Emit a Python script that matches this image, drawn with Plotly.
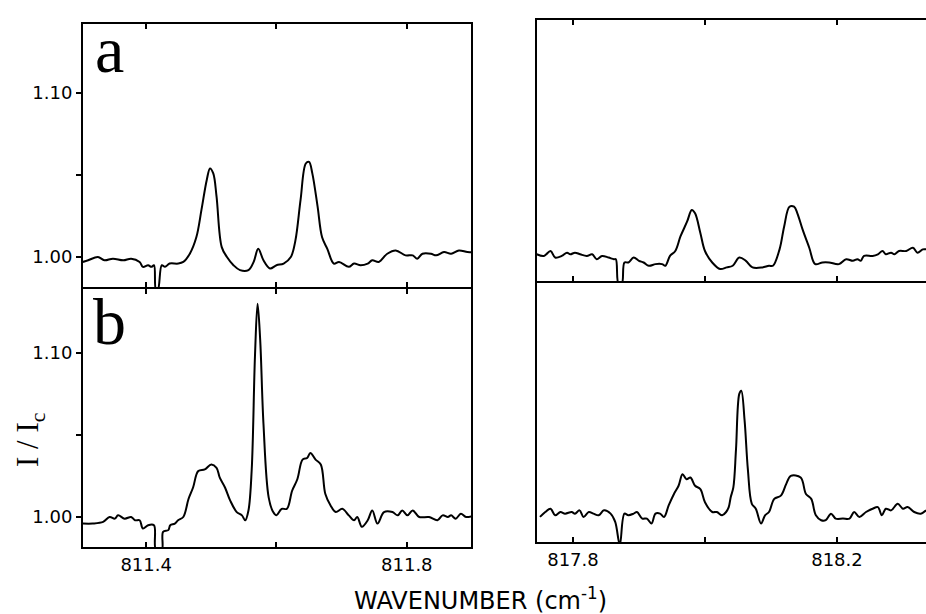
import plotly.graph_objects as go

# ---------------- data ----------------
# Panel a, 811 cm-1 window
a_left_wn = [811.303, 811.311, 811.326, 811.336, 811.349, 811.365, 811.377, 811.390, 811.395, 811.403,
             811.408, 811.412, 811.415, 811.418, 811.424, 811.429, 811.436, 811.449, 811.457, 811.467,
             811.477, 811.485, 811.493, 811.498, 811.503, 811.508, 811.516, 811.524, 811.534, 811.544,
             811.557, 811.565, 811.572, 811.580, 811.590, 811.600, 811.611, 811.622, 811.629, 811.637,
             811.645, 811.650, 811.655, 811.663, 811.670, 811.678, 811.688, 811.696, 811.711, 811.719,
             811.729, 811.740, 811.747, 811.757, 811.770, 811.783, 811.798, 811.809, 811.816, 811.824,
             811.837, 811.845, 811.857, 811.868, 811.880, 811.893, 811.901]
a_left_ratio = [0.997, 0.998, 1.000, 0.998, 0.999, 0.998, 0.999, 0.997, 0.994, 0.995,
                0.994, 0.995, 0.980, 0.980, 0.995, 0.994, 0.996, 0.996, 0.997, 1.002,
                1.012, 1.029, 1.047, 1.054, 1.051, 1.037, 1.006, 1.000, 0.995, 0.992,
                0.992, 0.997, 1.005, 0.998, 0.993, 0.995, 0.996, 1.000, 1.010, 1.035,
                1.057, 1.058, 1.051, 1.031, 1.012, 1.005, 0.996, 0.997, 0.994, 0.996,
                0.995, 0.996, 0.998, 0.997, 1.002, 1.004, 1.001, 1.001, 0.999, 1.002,
                1.002, 1.001, 1.003, 1.002, 1.004, 1.003, 1.003]

# Panel a, 818 cm-1 window
a_right_wn = [817.745, 817.756, 817.766, 817.773, 817.783, 817.791, 817.796, 817.803, 817.811, 817.821,
              817.829, 817.836, 817.844, 817.854, 817.862, 817.865, 817.869, 817.874, 817.878, 817.884,
              817.892, 817.900, 817.907, 817.915, 817.925, 817.935, 817.940, 817.947, 817.955, 817.963,
              817.973, 817.980, 817.985, 817.993, 818.000, 818.011, 818.023, 818.033, 818.042, 818.052,
              818.062, 818.072, 818.087, 818.097, 818.103, 818.113, 818.120, 818.128, 818.135, 818.140,
              818.148, 818.158, 818.167, 818.178, 818.188, 818.203, 818.214, 818.224, 818.231, 818.236,
              818.241, 818.254, 818.262, 818.269, 818.274, 818.282, 818.287, 818.294, 818.305, 818.315,
              818.322, 818.330, 818.335]
a_right_ratio = [0.998, 0.997, 1.000, 0.996, 0.997, 0.999, 0.998, 0.999, 0.998, 0.997,
                 0.998, 0.995, 0.997, 0.996, 0.995, 0.995, 0.980, 0.980, 0.993, 0.993,
                 0.996, 0.994, 0.993, 0.991, 0.992, 0.992, 0.991, 0.997, 1.000, 1.009,
                 1.018, 1.025, 1.023, 1.011, 1.000, 0.993, 0.989, 0.990, 0.991, 0.996,
                 0.994, 0.990, 0.990, 0.991, 0.991, 1.001, 1.015, 1.027, 1.027, 1.023,
                 1.013, 1.002, 0.992, 0.993, 0.993, 0.992, 0.995, 0.994, 0.995, 0.994,
                 0.997, 0.997, 0.998, 1.000, 0.998, 0.999, 0.998, 1.000, 1.000, 1.002,
                 0.999, 1.001, 1.001]

# Panel b, 811 cm-1 window
b_left_wn = [811.303, 811.318, 811.334, 811.344, 811.352, 811.357, 811.367, 811.377, 811.383, 811.390,
             811.395, 811.403, 811.412, 811.415, 811.424, 811.426, 811.434, 811.437, 811.444, 811.449,
             811.457, 811.465, 811.472, 811.480, 811.490, 811.500, 811.508, 811.513, 811.521, 811.529,
             811.539, 811.547, 811.552, 811.557, 811.562, 811.567, 811.571, 811.575, 811.580, 811.588,
             811.595, 811.600, 811.608, 811.616, 811.624, 811.632, 811.640, 811.647, 811.652, 811.660,
             811.668, 811.675, 811.683, 811.691, 811.701, 811.711, 811.719, 811.724, 811.731, 811.740,
             811.747, 811.755, 811.765, 811.778, 811.786, 811.793, 811.801, 811.809, 811.819, 811.834,
             811.847, 811.855, 811.863, 811.868, 811.875, 811.883, 811.891, 811.904]
b_left_ratio = [0.996, 0.996, 0.997, 1.000, 0.999, 1.001, 0.999, 1.000, 0.998, 0.998,
                0.993, 0.995, 0.995, 0.980, 0.980, 0.991, 0.992, 0.995, 0.996, 0.998,
                1.000, 1.011, 1.018, 1.028, 1.029, 1.032, 1.030, 1.024, 1.018, 1.010,
                1.003, 1.001, 0.998, 1.004, 1.029, 1.098, 1.130, 1.108, 1.057, 1.012,
                1.003, 1.001, 1.005, 1.005, 1.016, 1.023, 1.035, 1.036, 1.039, 1.035,
                1.032, 1.014, 1.007, 1.003, 1.005, 1.001, 0.998, 1.000, 0.994, 0.998,
                1.004, 0.996, 1.003, 1.003, 1.001, 1.004, 1.001, 1.004, 1.000, 1.000,
                0.998, 1.001, 1.000, 1.001, 0.999, 1.002, 1.000, 1.001]

# Panel b, 818 cm-1 window
b_right_wn = [817.750, 817.758, 817.766, 817.773, 817.781, 817.788, 817.798, 817.803, 817.810, 817.816,
              817.824, 817.831, 817.839, 817.847, 817.857, 817.864, 817.871, 817.878, 817.884, 817.892,
              817.897, 817.905, 817.912, 817.919, 817.925, 817.932, 817.938, 817.945, 817.953, 817.960,
              817.966, 817.972, 817.978, 817.985, 817.993, 818.000, 818.011, 818.018, 818.026, 818.032,
              818.036, 818.039, 818.043, 818.047, 818.052, 818.055, 818.060, 818.065, 818.071, 818.077,
              818.085, 818.091, 818.097, 818.105, 818.115, 818.123, 818.130, 818.145, 818.153, 818.161,
              818.168, 818.176, 818.183, 818.191, 818.198, 818.209, 818.219, 818.226, 818.234, 818.244,
              818.254, 818.262, 818.268, 818.274, 818.282, 818.292, 818.300, 818.307, 818.317, 818.327,
              818.335]
b_right_ratio = [0.997, 1.000, 1.002, 0.998, 1.000, 0.999, 1.000, 0.999, 1.001, 0.997,
                 1.000, 0.999, 0.998, 1.001, 0.999, 0.994, 0.980, 0.999, 0.998, 0.999,
                 1.000, 0.996, 0.996, 0.993, 0.999, 0.999, 0.997, 1.004, 1.011, 1.016,
                 1.023, 1.020, 1.021, 1.016, 1.014, 1.006, 1.000, 1.000, 0.998, 1.000,
                 1.003, 1.009, 1.015, 1.038, 1.072, 1.074, 1.056, 1.026, 1.005, 1.002,
                 0.993, 0.998, 1.000, 1.008, 1.010, 1.017, 1.022, 1.021, 1.011, 1.008,
                 0.998, 0.995, 0.995, 0.999, 0.996, 0.996, 0.996, 1.000, 0.997, 1.000,
                 1.002, 1.003, 0.998, 1.002, 1.001, 1.005, 1.002, 1.003, 1.000, 0.999,
                 1.001]

y_tick_vals = [1.00, 1.10]
y_tick_text = ["1.00", "1.10"]
y_minor_vals = [1.05]
left_tick_vals = [811.4, 811.8]
left_tick_text = ["811.4", "811.8"]
left_minor_vals = [811.6]
right_tick_vals = [817.8, 818.2]
right_tick_text = ["817.8", "818.2"]
right_minor_vals = [818.0]
panel_labels = ["a", "b"]
x_title = "WAVENUMBER (cm<sup>-1</sup>)"
y_title = "I / I<sub>c</sub>"

# ---------------- figure ----------------
W, H = 926, 614
SANS = "DejaVu Sans"
SERIF = "Liberation Serif"

def px_x(p):
    return p / W

def px_y(p):
    return 1 - p / H

line_style = dict(color="black", width=2)
fig = go.Figure()
fig.add_trace(go.Scatter(x=a_left_wn, y=a_left_ratio, mode="lines", line=line_style,
                         line_shape="spline", xaxis="x", yaxis="y"))
fig.add_trace(go.Scatter(x=b_left_wn, y=b_left_ratio, mode="lines", line=line_style,
                         line_shape="spline", xaxis="x2", yaxis="y2"))
fig.add_trace(go.Scatter(x=a_right_wn, y=a_right_ratio, mode="lines", line=line_style,
                         line_shape="spline", xaxis="x3", yaxis="y3"))
fig.add_trace(go.Scatter(x=b_right_wn, y=b_right_ratio, mode="lines", line=line_style,
                         line_shape="spline", xaxis="x4", yaxis="y4"))

tickfont = dict(family=SANS, size=18, color="black")

def xax(domain, rng, vals, text, minor_vals, anchor, labels, mirror):
    return dict(domain=domain, range=rng, anchor=anchor, showline=True, linecolor="black",
                linewidth=2, mirror=mirror, ticks="inside", ticklen=5, tickwidth=1.5,
                tickcolor="black", tickvals=vals, ticktext=text, showticklabels=labels,
                minor=dict(tickvals=minor_vals, ticks="inside", ticklen=5, tickwidth=1.5,
                           tickcolor="black", showgrid=False),
                tickfont=tickfont, showgrid=False, zeroline=False, fixedrange=True)

def yax(domain, rng, anchor, left_side):
    d = dict(domain=domain, range=rng, anchor=anchor, showline=True, linecolor="black",
             linewidth=2, showgrid=False, zeroline=False, fixedrange=True)
    if left_side:
        d.update(mirror=True, ticks="outside", ticklen=5, tickwidth=1.5, tickcolor="black",
                 tickvals=y_tick_vals, ticktext=y_tick_text, tickfont=tickfont,
                 minor=dict(tickvals=y_minor_vals, ticks="outside", ticklen=5, tickwidth=1.5,
                            tickcolor="black", showgrid=False))
    else:
        d.update(showticklabels=False, ticks="")
    return d

left_dom = [px_x(83), px_x(471)]
right_dom = [px_x(537), 1.0]
left_xrange = [811.3031, 811.8985]
right_xrange = [817.7455, 818.3349]

fig.update_layout(
    width=W, height=H,
    margin=dict(l=0, r=0, t=0, b=0),
    paper_bgcolor="white", plot_bgcolor="white",
    showlegend=False,
    xaxis=xax(left_dom, left_xrange, left_tick_vals, left_tick_text, left_minor_vals, "y", False, "ticks"),
    yaxis=yax([px_y(287), px_y(24)], [0.98171, 1.14207], "x", True),
    xaxis2=xax(left_dom, left_xrange, left_tick_vals, left_tick_text, left_minor_vals, "y2", True, "ticks"),
    yaxis2=yax([px_y(547), px_y(289)], [0.98171, 1.13902], "x2", True),
    xaxis3=xax(right_dom, right_xrange, right_tick_vals, right_tick_text, right_minor_vals, "y3", False, "ticks"),
    yaxis3=yax([px_y(281), px_y(20)], [0.98171, 1.14085], "x3", False),
    xaxis4=xax(right_dom, right_xrange, right_tick_vals, right_tick_text, right_minor_vals, "y4", True, False),
    yaxis4=yax([px_y(542), px_y(281)], [0.98171, 1.14085], "x4", False),
)

fig.add_annotation(text=panel_labels[0], xref="paper", yref="paper", x=px_x(93), y=px_y(49),
                   xanchor="left", yanchor="middle", showarrow=False,
                   font=dict(family=SERIF, size=66, color="black"))
fig.add_annotation(text=panel_labels[1], xref="paper", yref="paper", x=px_x(91), y=px_y(321),
                   xanchor="left", yanchor="middle", showarrow=False,
                   font=dict(family=SERIF, size=66, color="black"))
fig.add_annotation(text=y_title, xref="paper", yref="paper", x=px_x(30), y=px_y(440),
                   xanchor="center", yanchor="middle", textangle=-90, showarrow=False,
                   font=dict(family=SERIF, size=31, color="black"))
fig.add_annotation(text=x_title, xref="paper", yref="paper", x=px_x(480), y=px_y(599),
                   xanchor="center", yanchor="middle", showarrow=False,
                   font=dict(family=SANS, size=24, color="black"))

fig.write_html("out.html")
